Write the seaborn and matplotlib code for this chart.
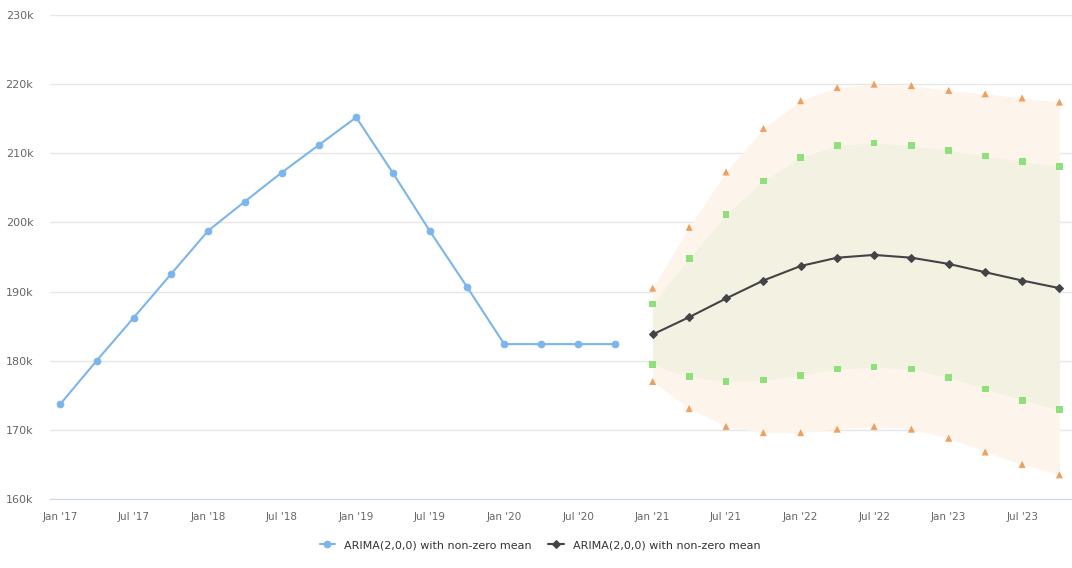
import pandas as pd
import numpy as np
import matplotlib
matplotlib.use("Agg")
import matplotlib.pyplot as plt
import matplotlib.dates as mdates
from matplotlib.ticker import FuncFormatter
import seaborn as sns

# Historical quarterly values
hist_dates = pd.date_range("2017-01-01", periods=16, freq="QS")
hist_values = [173.7, 180.0, 186.2, 192.5, 198.8, 203.0, 207.2, 211.2,
               215.2, 207.2, 198.8, 190.7, 182.4, 182.4, 182.4, 182.4]

# Forecast and intervals (thousands)
fc_dates = pd.date_range("2021-01-01", periods=12, freq="QS")
fc_mean = [183.8, 186.3, 189.0, 191.6, 193.7, 194.9, 195.3, 194.9, 194.0, 192.8, 191.6, 190.5]
hi80 = [188.2, 194.8, 201.1, 206.0, 209.4, 211.1, 211.5, 211.1, 210.4, 209.6, 208.8, 208.1]
lo80 = [179.4, 177.7, 177.0, 177.2, 177.9, 178.8, 179.1, 178.8, 177.6, 175.9, 174.3, 172.9]
hi95 = [190.5, 199.3, 207.3, 213.6, 217.6, 219.5, 220.0, 219.8, 219.1, 218.6, 218.0, 217.4]
lo95 = [177.0, 173.1, 170.5, 169.6, 169.6, 170.1, 170.5, 170.1, 168.8, 166.8, 165.0, 163.5]

series_name = "ARIMA(2,0,0) with non-zero mean"

hist = pd.DataFrame({"date": hist_dates, "value": np.array(hist_values) * 1000})
fc = pd.DataFrame({"date": fc_dates, "mean": np.array(fc_mean) * 1000,
                   "hi80": np.array(hi80) * 1000, "lo80": np.array(lo80) * 1000,
                   "hi95": np.array(hi95) * 1000, "lo95": np.array(lo95) * 1000})

sns.set_style("white")
plt.rcParams["font.family"] = ["DejaVu Sans"]

fig = plt.figure(figsize=(10.72, 5.68), dpi=100)
ax = fig.add_axes([50 / 1072, 1 - 499 / 568, 1 - 50 / 1072, (499 - 15) / 568])

# interval bands
ax.fill_between(fc["date"], fc["lo95"], fc["hi95"], color="#fdf4eb", lw=0, zorder=1)
ax.fill_between(fc["date"], fc["lo80"], fc["hi80"], color="#f3f1e1", lw=0, zorder=2)

# interval markers
for col in ["hi95", "lo95"]:
    sns.scatterplot(data=fc, x="date", y=col, marker="^", color="#f0a05e", s=26,
                    edgecolor="none", ax=ax, zorder=3)
for col in ["hi80", "lo80"]:
    sns.scatterplot(data=fc, x="date", y=col, marker="s", color="#8ee07a", s=24,
                    edgecolor="none", ax=ax, zorder=3)

# lines
sns.lineplot(data=hist, x="date", y="value", color="#7cb5ec", lw=1.5, marker="o",
             markersize=4.8, markeredgecolor="#7cb5ec", ax=ax, zorder=4, label=series_name)
sns.lineplot(data=fc, x="date", y="mean", color="#434348", lw=1.5, marker="D",
             markersize=3.8, markeredgecolor="#434348", ax=ax, zorder=4, label=series_name)

# axes styling
ax.set_ylim(160000, 230000)
ax.set_yticks(np.arange(160000, 230001, 10000))
ax.yaxis.set_major_formatter(FuncFormatter(lambda v, p: f"{v / 1000:.0f}k"))
ax.set_xlim(pd.Timestamp("2016-12-07"), pd.Timestamp("2023-11-01"))
ticks = pd.date_range("2017-01-01", "2023-07-01", freq="6MS")
ax.set_xticks(ticks)
ax.xaxis.set_major_formatter(mdates.DateFormatter("%b '%y"))
ax.grid(axis="y", color="#e6e6e6", lw=1)
ax.grid(axis="x", visible=False)
for s in ["top", "right", "left"]:
    ax.spines[s].set_visible(False)
ax.spines["bottom"].set_color("#ccd6eb")
ax.tick_params(axis="x", length=6, color="#ccd6eb", labelsize=7.5, labelcolor="#666666", pad=3)
ax.tick_params(axis="y", length=0, labelsize=8, labelcolor="#666666", pad=12)
ax.set_xlabel("")
ax.set_ylabel("")

ax.legend(loc="center", bbox_to_anchor=(540 / 1072, 1 - 545 / 568),
          bbox_transform=fig.transFigure, ncol=2, frameon=False, fontsize=8,
          labelcolor="#333333", handlelength=1.4, columnspacing=1.5)

fig.savefig("out.png", dpi=100)
